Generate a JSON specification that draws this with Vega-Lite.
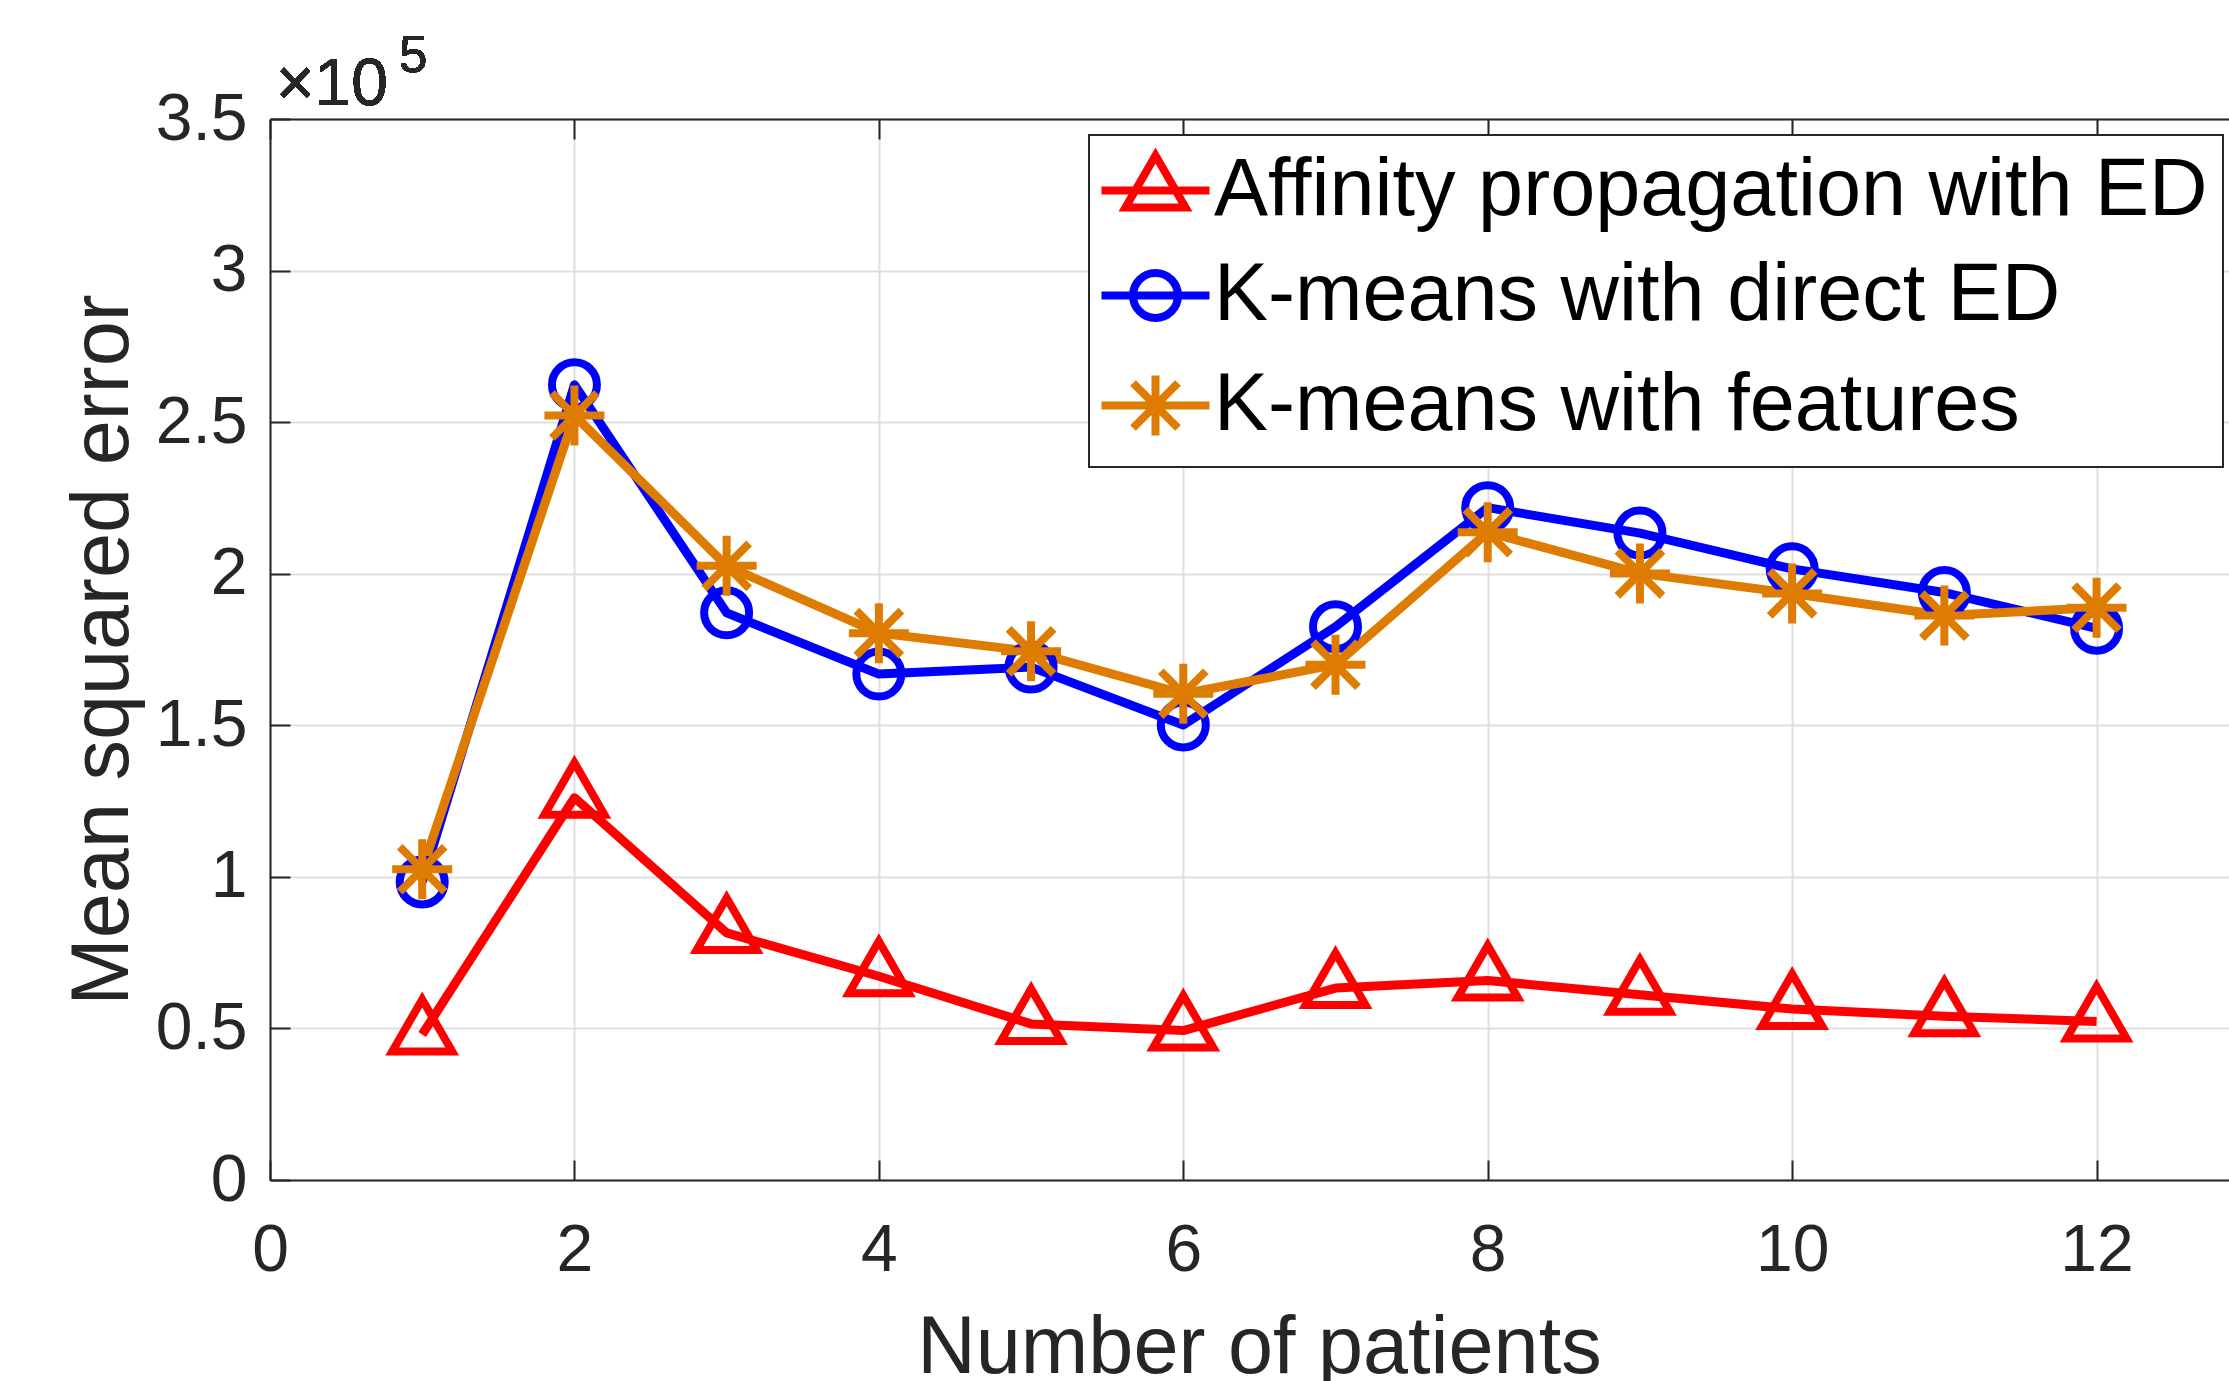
{
  "$schema": "https://vega.github.io/schema/vega-lite/v6.json",
  "width": 1959,
  "height": 1061,
  "autosize": {"type": "none"},
  "padding": {"left": 270, "top": 119, "right": 0, "bottom": 201},
  "background": "white",
  "config": {
    "view": {"stroke": null},
    "font": "Liberation Sans",
    "axis": {
      "domainColor": "#262626",
      "domainWidth": 2,
      "tickColor": "#262626",
      "tickWidth": 2,
      "tickSize": -20,
      "gridColor": "#dfdfdf",
      "gridWidth": 2,
      "labelFont": "Liberation Sans",
      "labelFontSize": 66,
      "labelColor": "#262626",
      "titleFont": "Liberation Sans",
      "titleFontSize": 81,
      "titleFontWeight": "normal",
      "titleColor": "#262626",
      "labelOverlap": false,
      "labelFlush": false
    }
  },
  "data": {
    "values": [
      {"series": "Affinity propagation with ED", "n": 1, "mse": 48000},
      {"series": "Affinity propagation with ED", "n": 2, "mse": 126100},
      {"series": "Affinity propagation with ED", "n": 3, "mse": 81500},
      {"series": "Affinity propagation with ED", "n": 4, "mse": 67200},
      {"series": "Affinity propagation with ED", "n": 5, "mse": 51500},
      {"series": "Affinity propagation with ED", "n": 6, "mse": 49300},
      {"series": "Affinity propagation with ED", "n": 7, "mse": 63300},
      {"series": "Affinity propagation with ED", "n": 8, "mse": 65800},
      {"series": "Affinity propagation with ED", "n": 9, "mse": 61100},
      {"series": "Affinity propagation with ED", "n": 10, "mse": 56400},
      {"series": "Affinity propagation with ED", "n": 11, "mse": 54000},
      {"series": "Affinity propagation with ED", "n": 12, "mse": 52300},
      {"series": "K-means with direct ED", "n": 1, "mse": 98300},
      {"series": "K-means with direct ED", "n": 2, "mse": 262300},
      {"series": "K-means with direct ED", "n": 3, "mse": 187100},
      {"series": "K-means with direct ED", "n": 4, "mse": 166900},
      {"series": "K-means with direct ED", "n": 5, "mse": 169200},
      {"series": "K-means with direct ED", "n": 6, "mse": 150100},
      {"series": "K-means with direct ED", "n": 7, "mse": 182500},
      {"series": "K-means with direct ED", "n": 8, "mse": 221800},
      {"series": "K-means with direct ED", "n": 9, "mse": 213400},
      {"series": "K-means with direct ED", "n": 10, "mse": 201600},
      {"series": "K-means with direct ED", "n": 11, "mse": 193800},
      {"series": "K-means with direct ED", "n": 12, "mse": 182000},
      {"series": "K-means with features", "n": 1, "mse": 102500},
      {"series": "K-means with features", "n": 2, "mse": 252200},
      {"series": "K-means with features", "n": 3, "mse": 202600},
      {"series": "K-means with features", "n": 4, "mse": 180400},
      {"series": "K-means with features", "n": 5, "mse": 174400},
      {"series": "K-means with features", "n": 6, "mse": 160400},
      {"series": "K-means with features", "n": 7, "mse": 170000},
      {"series": "K-means with features", "n": 8, "mse": 213700},
      {"series": "K-means with features", "n": 9, "mse": 200100},
      {"series": "K-means with features", "n": 10, "mse": 193500},
      {"series": "K-means with features", "n": 11, "mse": 186200},
      {"series": "K-means with features", "n": 12, "mse": 188800}
    ]
  },
  "layer": [
    {
      "mark": {"type": "line", "strokeWidth": 9, "strokeJoin": "round"},
      "encoding": {
        "x": {
          "field": "n", "type": "quantitative",
          "scale": {"domain": [0, 12.87], "nice": false, "zero": false},
          "axis": {
            "orient": "bottom",
            "values": [0, 2, 4, 6, 8, 10, 12],
            "title": "Number of patients",
            "grid": true,
            "labelPadding": 58,
            "titleX": 989,
            "titleAlign": "center",
            "titleY": 192,
            "titleBaseline": "alphabetic"
          }
        },
        "y": {
          "field": "mse", "type": "quantitative",
          "scale": {"domain": [0, 350000], "nice": false},
          "title": "Mean squared error",
          "axis": {
            "values": [0, 50000, 100000, 150000, 200000, 250000, 300000, 350000],
            "labelExpr": "datum.value / 100000",
            "grid": true,
            "labelPadding": 43,
            "titleX": -143,
            "titleBaseline": "alphabetic"
          }
        },
        "color": {
          "field": "series", "type": "nominal",
          "scale": {
            "domain": ["Affinity propagation with ED", "K-means with direct ED", "K-means with features"],
            "range": ["#ff0000", "#0000ff", "#dd7c00"]
          },
          "legend": {
            "orient": "none",
            "legendX": 819,
            "legendY": 16,
            "title": null,
            "padding": 15,
            "rowPadding": 23,
            "symbolSize": 3600,
            "symbolOffset": 11,
            "labelOffset": 18,
            "labelFontSize": 81,
            "labelFont": "Liberation Sans",
            "labelColor": "#000000",
            "labelLimit": 0,
            "strokeColor": "#262626",
            "fillColor": "#ffffff",
            "symbolStrokeWidth": 8,
            "encode": {
              "legend": {"update": {"strokeWidth": {"value": 2}}},
              "symbols": {
                "update": {
                  "shape": {"signal": "datum.value === 'Affinity propagation with ED' ? 'M-1.8,0H1.8M0,-1.167L1,0.567L-1,0.567Z' : datum.value === 'K-means with direct ED' ? 'M-1.8,0H1.8M-0.75,0A0.75,0.75,0,1,0,0.75,0A0.75,0.75,0,1,0,-0.75,0Z' : 'M-1.8,0H1.8M0,-1V1M-0.75,-0.75L0.75,0.75M-0.75,0.75L0.75,-0.75'"},
                  "fill": {"value": "transparent"},
                  "strokeWidth": {"value": 8}
                }
              }
            }
          }
        }
      }
    },
    {
      "mark": {"type": "point", "filled": false, "strokeWidth": 8, "size": 3600, "opacity": 1},
      "encoding": {
        "x": {
          "field": "n", "type": "quantitative",
          "scale": {"domain": [0, 12.87], "nice": false, "zero": false},
          "axis": {
            "orient": "top",
            "values": [0, 2, 4, 6, 8, 10, 12],
            "labels": false,
            "grid": false,
            "title": null
          }
        },
        "y": {"field": "mse", "type": "quantitative", "title": "Mean squared error"},
        "color": {
          "field": "series", "type": "nominal",
          "scale": {
            "domain": ["Affinity propagation with ED", "K-means with direct ED", "K-means with features"],
            "range": ["#ff0000", "#0000ff", "#dd7c00"]
          },
          "legend": null
        },
        "shape": {
          "field": "series", "type": "nominal",
          "scale": {
            "domain": ["Affinity propagation with ED", "K-means with direct ED", "K-means with features"],
            "range": [
              "M0,-1.167L1,0.567L-1,0.567Z",
              "M-0.75,0A0.75,0.75,0,1,0,0.75,0A0.75,0.75,0,1,0,-0.75,0Z",
              "M-1,0H1M0,-1V1M-0.75,-0.75L0.75,0.75M-0.75,0.75L0.75,-0.75"
            ]
          },
          "legend": null
        }
      }
    },
    {
      "mark": {"type": "text", "text": "×10", "fontSize": 66, "font": "Liberation Sans", "color": "#262626", "align": "left", "baseline": "alphabetic", "dx": 6, "dy": -14},
      "encoding": {
        "x": {"datum": 0, "type": "quantitative", "axis": null},
        "y": {"datum": 350000, "type": "quantitative"}
      }
    },
    {
      "mark": {"type": "text", "text": "5", "fontSize": 51, "font": "Liberation Sans", "color": "#262626", "align": "left", "baseline": "alphabetic", "dx": 129, "dy": -47},
      "encoding": {
        "x": {"datum": 0, "type": "quantitative", "axis": null},
        "y": {"datum": 350000, "type": "quantitative"}
      }
    }
  ],
  "resolve": {"axis": {"x": "independent"}, "scale": {"color": "independent", "shape": "independent"}, "legend": {"color": "independent"}}
}
